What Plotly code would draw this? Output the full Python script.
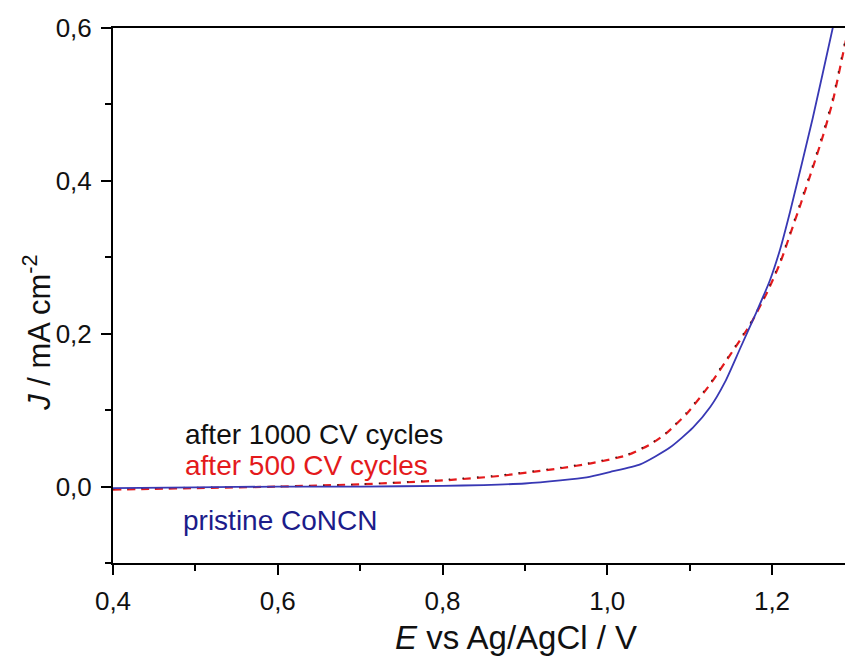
import plotly.graph_objects as go

# Potential (V vs Ag/AgCl) and current density (mA cm^-2)
E_pristine = [0.40, 0.50, 0.60, 0.70, 0.80, 0.85, 0.90, 0.943, 0.975, 1.003, 1.040, 1.076, 1.104,
              1.125, 1.143, 1.161, 1.181, 1.1975, 1.2097, 1.222, 1.2494, 1.2737, 1.29]
J_pristine = [-0.002, -0.001, 0.000, 0.000, 0.001, 0.002, 0.004, 0.008, 0.012, 0.019, 0.029, 0.051, 0.077,
              0.104, 0.137, 0.180, 0.228, 0.270, 0.310, 0.360, 0.482, 0.600, 0.680]

E_500 = [0.40, 0.45, 0.50, 0.60, 0.70, 0.80, 0.87, 0.943, 0.983, 1.024, 1.052, 1.073, 1.097,
         1.125, 1.149, 1.173, 1.194, 1.210, 1.222, 1.2355, 1.2494, 1.2616, 1.2737, 1.2865, 1.29]
J_500 = [-0.004, -0.003, -0.002, 0.000, 0.003, 0.008, 0.014, 0.024, 0.031, 0.041, 0.055, 0.071, 0.096,
         0.134, 0.172, 0.211, 0.254, 0.293, 0.330, 0.372, 0.417, 0.458, 0.504, 0.568, 0.585]

E_1000 = [0.40, 0.45, 0.50, 0.60, 0.70, 0.80, 0.87, 0.943, 0.983, 1.024, 1.052, 1.073, 1.097,
          1.125, 1.149, 1.173, 1.194, 1.210, 1.222, 1.2355, 1.2494, 1.2616, 1.2737, 1.2865, 1.29]
J_1000 = [-0.003, -0.002, -0.001, 0.000, 0.003, 0.009, 0.015, 0.025, 0.032, 0.042, 0.056, 0.072, 0.098,
          0.136, 0.174, 0.213, 0.256, 0.296, 0.333, 0.376, 0.421, 0.463, 0.509, 0.573, 0.590]

x_ticks = [0.4, 0.6, 0.8, 1.0, 1.2]
y_ticks = [0.0, 0.2, 0.4, 0.6]

labels = ["after 1000 CV cycles", "after 500 CV cycles", "pristine CoNCN"]
label_colors = ["#111111", "#e41a1c", "#1c1c8a"]
label_E = [0.4855, 0.4855, 0.4825]
label_J = [0.068, 0.0275, -0.0445]

FONT = "Liberation Sans, Arial, sans-serif"
TXT = "#111111"

fig = go.Figure()
fig.add_trace(go.Scatter(x=E_500, y=J_500, mode="lines", line_shape="spline",
                         line=dict(color="#e41a1c", width=2.2, dash="8px,6px", smoothing=0.6), showlegend=False))
fig.add_trace(go.Scatter(x=E_1000, y=J_1000, mode="lines", line_shape="spline",
                         line=dict(color="#222222", width=1.3, dash="1.5px,12.5px", smoothing=0.6), showlegend=False))
fig.add_trace(go.Scatter(x=E_pristine, y=J_pristine, mode="lines", line_shape="spline",
                         line=dict(color="#3838b4", width=1.8, smoothing=0.6), showlegend=False))

for t, c, xe, yj in zip(labels, label_colors, label_E, label_J):
    fig.add_annotation(x=xe, y=yj, xref="x", yref="y", text=t, showarrow=False,
                       xanchor="left", yanchor="middle", font=dict(family=FONT, size=28, color=c))

# axis titles
fig.add_annotation(x=0.551, y=-0.14, xref="paper", yref="paper", text="<i>E</i> vs Ag/AgCl / V",
                   showarrow=False, xanchor="center", yanchor="middle",
                   font=dict(family=FONT, size=33, color=TXT))
fig.add_annotation(x=-0.104, y=0.43, xref="paper", yref="paper", text="<i>J</i> / mA cm<sup>-2</sup>",
                   showarrow=False, xanchor="center", yanchor="middle", textangle=-90,
                   font=dict(family=FONT, size=31, color=TXT))

fig.update_layout(
    width=845, height=660,
    margin=dict(l=113, r=0, t=28, b=97),
    paper_bgcolor="white", plot_bgcolor="white",
    separators=",.",
    font=dict(family=FONT, color=TXT),
)
fig.update_xaxes(
    range=[0.4, 1.2886], tickvals=x_ticks, tickformat=".1f",
    showgrid=False, zeroline=False,
    showline=True, linecolor="black", linewidth=2, mirror=True,
    ticks="outside", ticklen=10, tickwidth=1.5, tickcolor="black",
    minor=dict(dtick=0.1, tick0=0.4, ticks="outside", ticklen=6, tickwidth=1.5, tickcolor="black"),
    tickfont=dict(size=26, family=FONT, color=TXT), ticklabelstandoff=4,
)
fig.update_yaxes(
    range=[-0.1, 0.6], tickvals=y_ticks, tickformat=".1f",
    showgrid=False, zeroline=False,
    showline=True, linecolor="black", linewidth=2,
    ticks="outside", ticklen=10, tickwidth=1.5, tickcolor="black",
    minor=dict(dtick=0.1, tick0=0.0, ticks="outside", ticklen=6, tickwidth=1.5, tickcolor="black"),
    tickfont=dict(size=26, family=FONT, color=TXT), ticklabelstandoff=4,
)

fig.write_html("out.html")
